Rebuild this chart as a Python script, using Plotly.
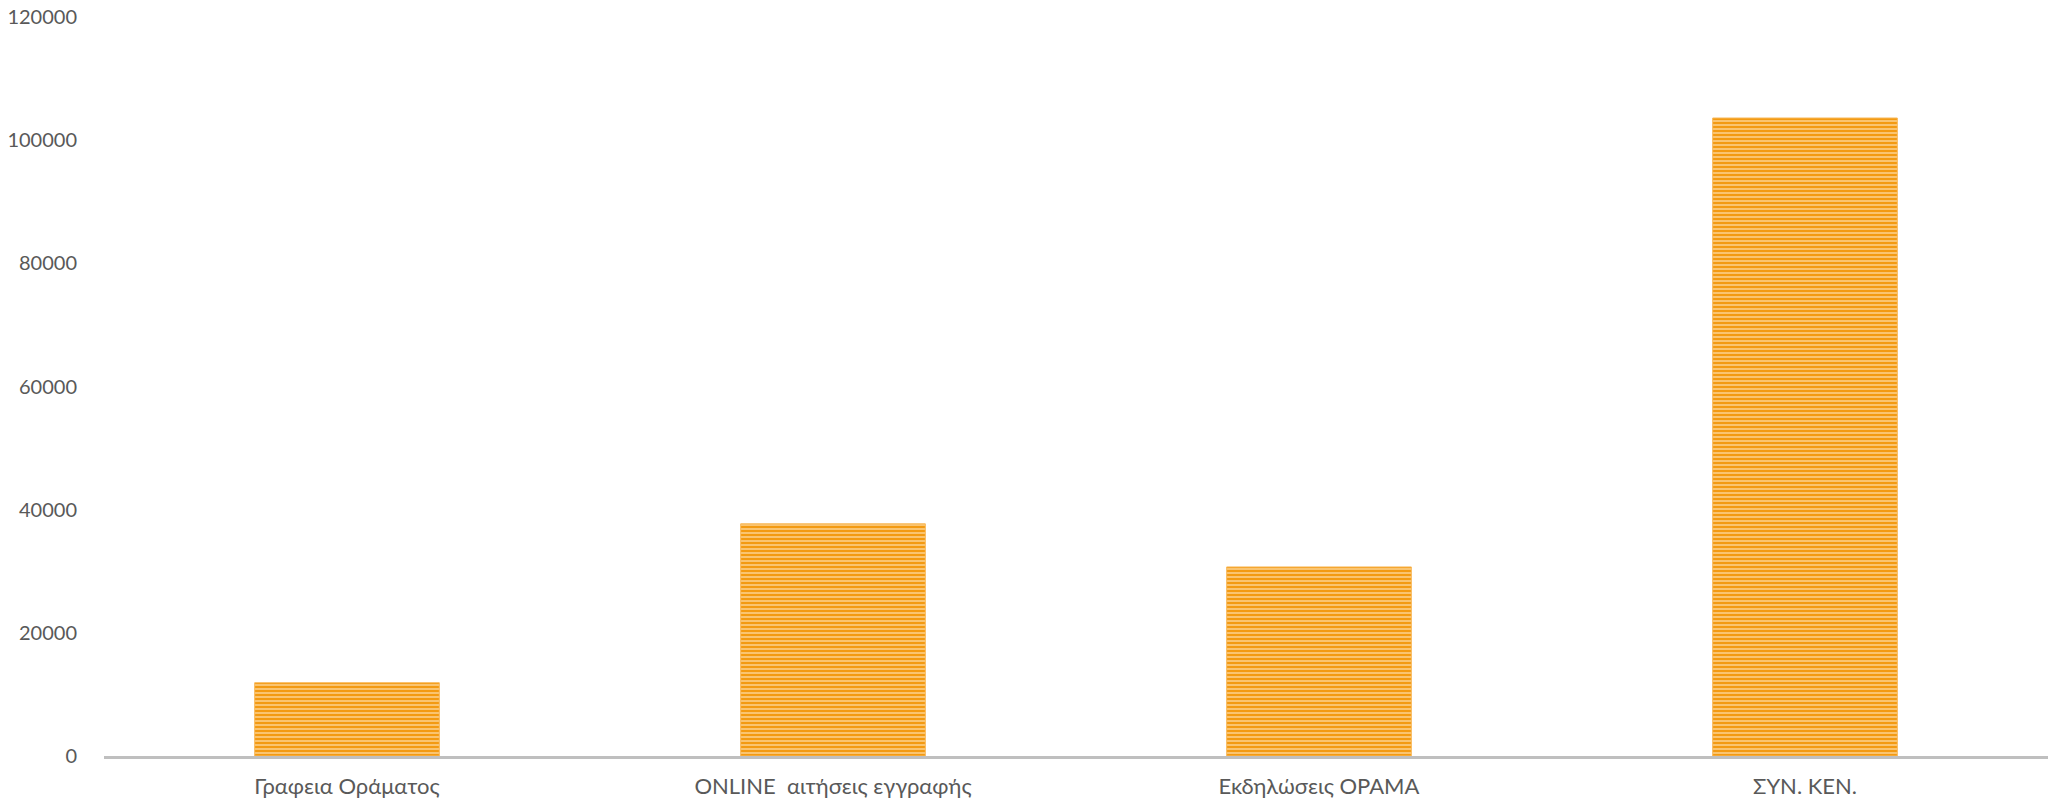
import plotly.graph_objects as go

categories = ["Γραφεια Οράματος", "ONLINE  αιτήσεις εγγραφής", "Εκδηλώσεις ΟΡΑΜΑ", "ΣΥΝ. ΚΕΝ."]
values = [11900, 37700, 30700, 103600]
y_ticks = [0, 20000, 40000, 60000, 80000, 100000, 120000]

fig = go.Figure(
    go.Bar(
        x=categories,
        y=values,
        marker=dict(
            color="#F39A12",
            line=dict(color="#F8B859", width=1),
            pattern=dict(shape="-", fgcolor="#F39A12", bgcolor="#FCCF88",
                         fgopacity=1, size=4, solidity=0.6, fillmode="replace"),
        ),
        hoverinfo="x+y",
    )
)

fig.update_layout(
    width=2048,
    height=803,
    margin=dict(l=104, r=0, t=17, b=47),
    paper_bgcolor="white",
    plot_bgcolor="white",
    bargap=0.62,
    showlegend=False,
    font=dict(family="Lato, 'Open Sans', sans-serif", size=20, color="#595959"),
)
fig.update_xaxes(
    showline=True, linecolor="#BFBFBF", linewidth=3,
    showgrid=False, zeroline=False,
    ticks="outside", ticklen=9, tickcolor="rgba(0,0,0,0)",
    tickfont=dict(size=22, color="#595959"),
)
fig.update_yaxes(
    range=[0, 120000], tickvals=y_ticks, ticktext=[str(v) for v in y_ticks],
    showgrid=False, zeroline=False, showline=False,
    ticks="outside", ticklen=22, tickcolor="rgba(0,0,0,0)",
    ticklabeloverflow="allow",
    tickfont=dict(size=20, color="#595959"),
)

fig.write_html(
    "out.html",
    config={"displayModeBar": False},
    post_script="document.body.style.margin='0';document.body.style.overflow='hidden';",
)
